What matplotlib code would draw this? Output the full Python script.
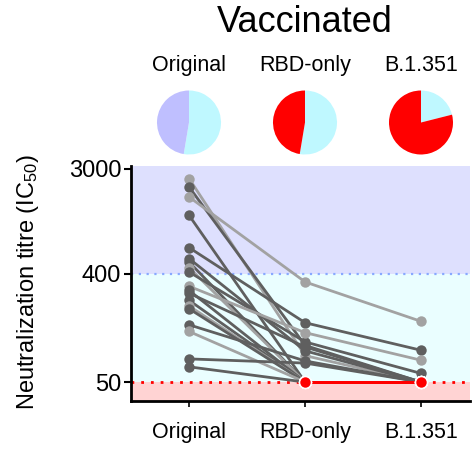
import matplotlib
matplotlib.use('Agg')
import matplotlib.pyplot as plt
import numpy as np

plt.rcParams['font.family'] = ['Liberation Sans', 'DejaVu Sans']
plt.rcParams['mathtext.default'] = 'regular'

# donnees (IC50, 19 sujets)
categories = ['Original', 'RBD-only', 'B.1.351']
original = [2477, 2109, 1741, 1224, 659, 534, 500, 449, 413, 314,
            290, 275, 240, 215, 204, 150, 132, 78, 67]
rbd_only = [83, 101, 341, 50, 156, 91, 50, 50, 108, 129,
            50, 98, 50, 50, 50, 75, 50, 72, 50]
b1351 = [50, 50, 160, 50, 92, 50, 50, 50, 59, 76,
         50, 50, 50, 50, 50, 50, 50, 50, 50]
shade = ['light', 'dark', 'light', 'dark', 'dark', 'dark', 'dark', 'light', 'dark', 'light',
         'dark', 'dark', 'dark', 'light', 'dark', 'dark', 'light', 'dark', 'dark']

# parts des camemberts
pie_counts = [[10, 9], [10, 9], [4, 15]]
pie_colors = [['#bff8ff', '#bfbfff'], ['#bff8ff', '#ff0000'], ['#bff8ff', '#ff0000']]

limit = 50
threshold = 400
gray = {'dark': '#5f5f5f', 'light': '#a2a2a2'}

W, H = 473, 453
fig = plt.figure(figsize=(W / 100, H / 100), dpi=100)
ax = fig.add_axes([131 / W, 1 - 400.7 / H, (470 - 131) / W, (400.7 - 166) / H])

ax.set_yscale('log')
ax.set_ylim(35, 3150)
ax.set_xlim(-0.5, 2.42)

# bandes de fond
ax.axhspan(threshold, 3150, color='#dee0fe', zorder=0, lw=0)
ax.axhspan(limit, threshold, color='#eafeff', zorder=0, lw=0)
ax.axhspan(35, limit, color='#ffd3d3', zorder=0, lw=0)
ax.axhline(threshold, color='#88a8ff', ls=(0, (1, 2.5)), lw=1.6, zorder=1)
ax.axhline(limit, color='#ff0000', ls=(0, (1, 2.5)), lw=2, zorder=1)

x = np.arange(len(categories))
for i in range(len(original)):
    vals = [original[i], rbd_only[i], b1351[i]]
    col = gray[shade[i]]
    for j in range(2):
        seg_col = '#ff0000' if vals[j] == limit and vals[j + 1] == limit else col
        ax.plot(x[j:j + 2], vals[j:j + 2], color=seg_col, lw=2,
                zorder=3 if seg_col != '#ff0000' else 4)
    for j, v in enumerate(vals):
        if v == limit:
            ax.plot(x[j], v, 'o', color='#ff0000', ms=8.5, mec='white', mew=1, zorder=6)
        else:
            ax.plot(x[j], v, 'o', color=col, ms=7.5, mew=0, zorder=5)

ax.set_yticks([50, 400, 3000])
ax.set_yticklabels(['50', '400', '3000'], fontsize=17)
ax.yaxis.set_minor_locator(matplotlib.ticker.NullLocator())
ax.set_xticks(x)
ax.set_xticklabels(categories, fontsize=15.5)
ax.tick_params(axis='y', length=5, width=1.5, pad=2)
ax.tick_params(axis='x', length=4, width=1.2, pad=11)
for side in ['top', 'right']:
    ax.spines[side].set_visible(False)
ax.spines['left'].set_linewidth(2)
ax.spines['bottom'].set_linewidth(2)

fig.text(28 / W, 1 - 282 / H, 'Neutralization titre (IC$_{50}$)', rotation=90,
         ha='center', va='center', fontsize=17)

# camemberts
centers = [189, 305, 421]
d = 64
for cx, counts, cols, name in zip(centers, pie_counts, pie_colors, categories):
    pax = fig.add_axes([(cx - d / 2) / W, 1 - (122.5 + d / 2) / H, d / W, d / H])
    pax.pie(counts, colors=cols, startangle=90, counterclock=False,
            wedgeprops={'linewidth': 0})
    pax.set_xlim(-1, 1)
    pax.set_ylim(-1, 1)
    pax.set_aspect('equal')
    fig.text(cx / W, 1 - 65 / H, name, ha='center', va='center', fontsize=15.5)

fig.text(305 / W, 1 - 22 / H, 'Vaccinated', ha='center', va='center', fontsize=26)

fig.savefig('out.png', dpi=100, facecolor='white')
